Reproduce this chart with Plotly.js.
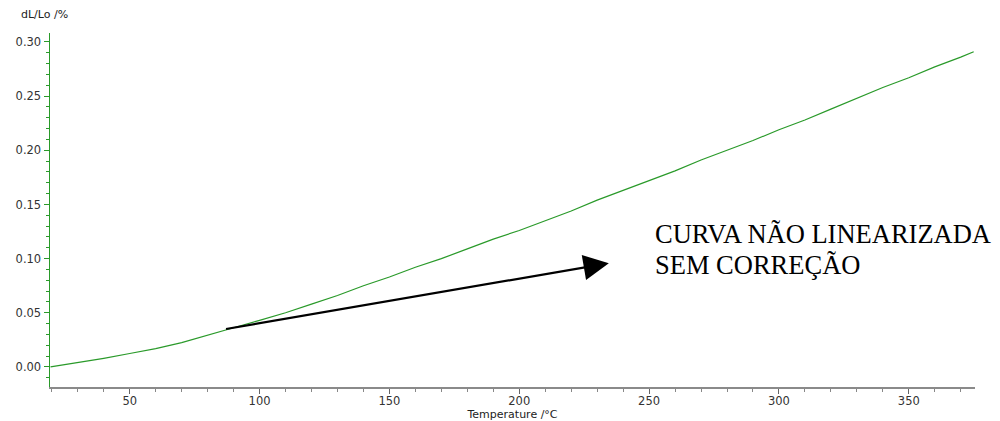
<!DOCTYPE html>
<html>
<head>
<meta charset="utf-8">
<script src="https://cdn.plot.ly/plotly-3.0.1.min.js"></script>
<style>html,body{margin:0;padding:0;background:#fff;}#chart{width:1000px;height:421px;}</style>
</head>
<body>
<div id="chart"></div>
<script>
const temperature = [19.5, 30, 40, 50, 60, 70, 80, 90, 100, 110, 120, 130, 140, 150, 160, 170, 180, 190, 200, 210, 220, 230, 240, 250, 260, 270, 280, 290, 300, 310, 320, 330, 340, 350, 360, 370, 375];
const dLLo = [0.000, 0.004, 0.008, 0.0124, 0.017, 0.0225, 0.029, 0.0362, 0.043, 0.050, 0.058, 0.066, 0.075, 0.083, 0.092, 0.100, 0.109, 0.118, 0.126, 0.135, 0.144, 0.154, 0.163, 0.172, 0.181, 0.191, 0.200, 0.209, 0.219, 0.228, 0.238, 0.248, 0.258, 0.267, 0.277, 0.286, 0.291];
const arrowTail = [86.5, 0.0348];
const arrowHead = [234.5, 0.0958];
const noteLines = ["CURVA NÃO LINEARIZADA", "SEM CORREÇÃO"];
const noteX = 251.5;
const noteY = [0.1225, 0.0945];
const yTitle = "dL/Lo /%";
const xTitle = "Temperature /°C";

const green = '#2a9a2a';
const sans = 'DejaVu Sans, Verdana, sans-serif';
const tickFont = {family: sans, size: 11.5, color: '#333333'};

const trace = {
  x: temperature, y: dLLo, type: 'scatter', mode: 'lines',
  line: {color: green, width: 1.2}, hoverinfo: 'skip', showlegend: false
};

const annotations = [
  {
    xref: 'paper', yref: 'paper', x: -0.034, y: 1.051,
    xanchor: 'left', yanchor: 'middle', showarrow: false,
    text: yTitle, font: {family: sans, size: 11, color: '#222222'}
  },
  {
    x: arrowHead[0], y: arrowHead[1], xref: 'x', yref: 'y',
    ax: arrowTail[0], ay: arrowTail[1], axref: 'x', ayref: 'y',
    showarrow: true, arrowhead: 2, arrowsize: 2.3, arrowwidth: 2.2,
    arrowcolor: '#000000', text: ''
  }
];
noteLines.forEach((line, i) => {
  annotations.push({
    x: noteX, y: noteY[i], xref: 'x', yref: 'y',
    xanchor: 'left', yanchor: 'middle', align: 'left', showarrow: false,
    text: line,
    font: {family: 'Liberation Serif, Times New Roman, serif', size: 26.5, color: '#000000'}
  });
});

const layout = {
  width: 1000, height: 421,
  margin: {l: 50, r: 25, t: 33, b: 34},
  paper_bgcolor: '#ffffff', plot_bgcolor: '#ffffff',
  showlegend: false,
  xaxis: {
    range: [19.3, 375.5], tick0: 0, dtick: 50,
    showgrid: false, zeroline: false,
    showline: true, linecolor: '#8a8a8a', linewidth: 1.5,
    ticks: 'outside', ticklen: 5, tickcolor: '#666666', tickwidth: 1,
    minor: {dtick: 10, ticklen: 3, tickcolor: '#888888', ticks: 'outside'},
    tickfont: tickFont, ticklabelstandoff: -2,
    title: {text: xTitle, font: {family: sans, size: 11, color: '#222222'}, standoff: 0}
  },
  yaxis: {
    range: [-0.0185, 0.3083], tick0: 0, dtick: 0.05, tickformat: '.2f',
    showgrid: false, zeroline: false,
    showline: true, linecolor: green, linewidth: 1.5,
    ticks: 'outside', ticklen: 5, tickcolor: green, tickwidth: 1,
    minor: {dtick: 0.01, ticklen: 3, tickcolor: green, ticks: 'outside'},
    tickfont: tickFont
  },
  annotations: annotations
};

Plotly.newPlot('chart', [trace], layout, {staticPlot: true, displayModeBar: false});
</script>
</body>
</html>
